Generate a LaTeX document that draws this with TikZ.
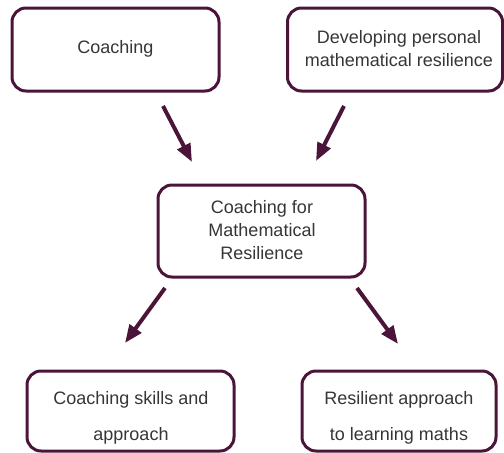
\documentclass[tikz,border=0pt]{standalone}
\usepackage{fontspec}
\setmainfont{Liberation Sans}
\usetikzlibrary{arrows.meta}
\definecolor{plum}{HTML}{4A1538}
\definecolor{txt}{HTML}{363636}
\tikzset{
  x=1pt,y=-1pt,
  box/.style={draw=plum, line width=3pt, rounded corners=14pt, fill=white, inner sep=0pt},
  lbl/.style={text=txt, font=\fontsize{18}{23}\selectfont, anchor=base, inner sep=0pt},
  arr/.style={draw=plum, line width=4pt, -{Triangle[width=14pt,length=18pt]}}
}
\begin{document}
\begin{tikzpicture}
\useasboundingbox (0,0) rectangle (504,453);
% boxes
\node[box, minimum width=207pt, minimum height=83pt] (b1) at (115.5,49.5) {};
\node[box, minimum width=215pt, minimum height=83pt] (b2) at (395,49.5) {};
\node[box, minimum width=207pt, minimum height=92pt] (bc) at (261.5,231) {};
\node[box, minimum width=207pt, minimum height=80pt] (bl) at (130.5,411) {};
\node[box, minimum width=194pt, minimum height=80pt] (br) at (399,411) {};
% texts
\node[lbl] (t1) at (115.5,53) {Coaching};
\node[lbl] (t2a) at (399,43) {Developing personal};
\node[lbl] (t2b) at (399,66) {mathematical resilience};
\node[lbl] (tca) at (262,213) {Coaching for};
\node[lbl] (tcb) at (262,236) {Mathematical};
\node[lbl] (tcc) at (262,259) {Resilience};
\node[lbl] (tla) at (131,404) {Coaching skills and};
\node[lbl] (tlb) at (131,440) {approach};
\node[lbl] (tra) at (399,404) {Resilient approach};
\node[lbl] (trb) at (399,440) {to learning maths};
% arrow end points
\coordinate (a1s) at (163,106); \coordinate (a1e) at (192,162);
\coordinate (a2s) at (344,106); \coordinate (a2e) at (316,161);
\coordinate (a3s) at (165,288); \coordinate (a3e) at (125,343);
\coordinate (a4s) at (357,288); \coordinate (a4e) at (398,344);
\draw[arr] (a1s) -- (a1e);
\draw[arr] (a2s) -- (a2e);
\draw[arr] (a3s) -- (a3e);
\draw[arr] (a4s) -- (a4e);
\end{tikzpicture}
\end{document}
